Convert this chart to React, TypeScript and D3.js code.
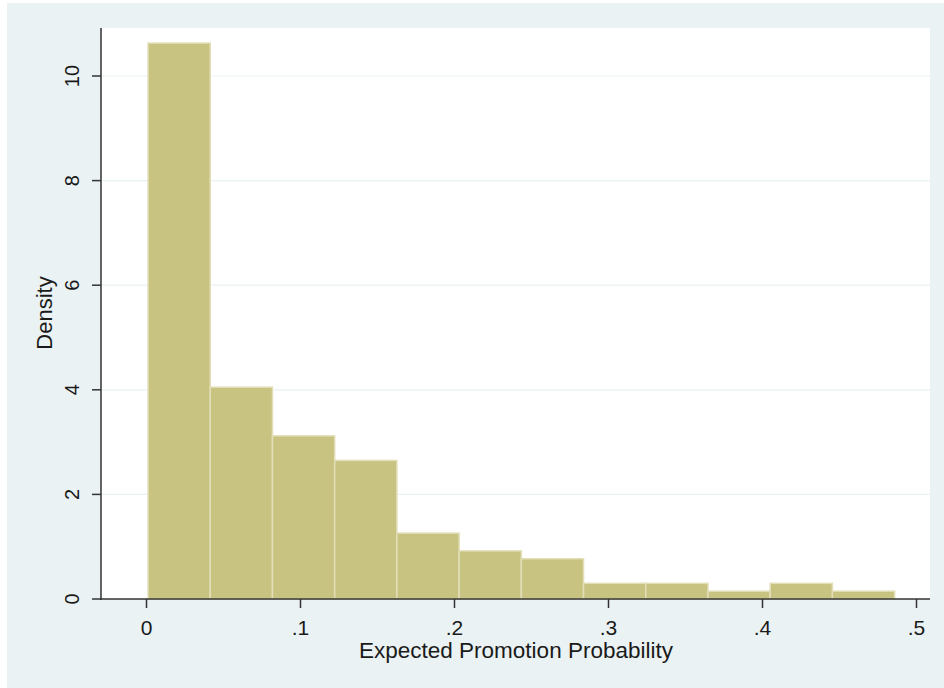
import React from "react";
import * as d3 from "d3";

const binEdges = [0.001, 0.0414, 0.0818, 0.1222, 0.1626, 0.203, 0.2434, 0.2838, 0.3242, 0.3646, 0.405, 0.4454, 0.4858];
const densities = [10.63, 4.05, 3.12, 2.65, 1.26, 0.92, 0.77, 0.3, 0.3, 0.15, 0.3, 0.15];
const xTicks = [0, 0.1, 0.2, 0.3, 0.4, 0.5];
const xTickLabels = ["0", ".1", ".2", ".3", ".4", ".5"];
const yTicks = [0, 2, 4, 6, 8, 10];
const yTickLabels = ["0", "2", "4", "6", "8", "10"];
const xTitle = "Expected Promotion Probability";
const yTitle = "Density";

export default function App() {
  const W = 944, H = 688;
  const left = 101, right = 930, top = 28, bottom = 599;
  const x = d3.scaleLinear().domain([0, 0.5]).range([146.5, 916.5]);
  const y = d3.scaleLinear().domain([0, 10]).range([bottom, 76]);
  const font = "Arial, 'Liberation Sans', sans-serif";
  const txt = "#1a1a1a";
  const axisCol = "#333";
  return (
    <svg width={W} height={H} style={{ position: "absolute", left: 0, top: 0 }} fontFamily={font}>
      <rect x={7} y={3} width={W - 7} height={H - 3} fill="#EAF2F3" />
      <rect x={left} y={top} width={right - left} height={bottom - top} fill="#ffffff" />
      {yTicks.filter((t) => t !== 0).map((t) => (
        <line key={"g" + t} x1={left} x2={right} y1={y(t)} y2={y(t)} stroke="#EAF2F3" strokeWidth={1.2} />
      ))}
      {densities.map((d, i) => (
        <rect
          key={i}
          x={x(binEdges[i])}
          y={y(d)}
          width={x(binEdges[i + 1]) - x(binEdges[i])}
          height={bottom - y(d)}
          fill="#C9C381"
          stroke="#E2DEB8"
          strokeWidth={1.5}
        />
      ))}
      <line x1={left} x2={left} y1={top} y2={bottom + 1} stroke={axisCol} strokeWidth={1.5} />
      <line x1={left - 1} x2={right} y1={bottom} y2={bottom} stroke={axisCol} strokeWidth={1.5} />
      {yTicks.map((t, i) => (
        <g key={"y" + t}>
          <line x1={left - 9} x2={left} y1={y(t)} y2={y(t)} stroke={axisCol} strokeWidth={1.5} />
          <text
            transform={`translate(${79},${y(t)}) rotate(-90)`}
            textAnchor="middle"
            fontSize={20}
            fill={txt}
          >
            {yTickLabels[i]}
          </text>
        </g>
      ))}
      {xTicks.map((t, i) => (
        <g key={"x" + t}>
          <line x1={x(t)} x2={x(t)} y1={bottom} y2={bottom + 9} stroke={axisCol} strokeWidth={1.5} />
          <text x={x(t)} y={635} textAnchor="middle" fontSize={21} fill={txt}>
            {xTickLabels[i]}
          </text>
        </g>
      ))}
      <text x={516} y={658} textAnchor="middle" fontSize={22.5} fill={txt}>
        {xTitle}
      </text>
      <text transform={`translate(${52},${313}) rotate(-90)`} textAnchor="middle" fontSize={22} fill={txt}>
        {yTitle}
      </text>
    </svg>
  );
}
